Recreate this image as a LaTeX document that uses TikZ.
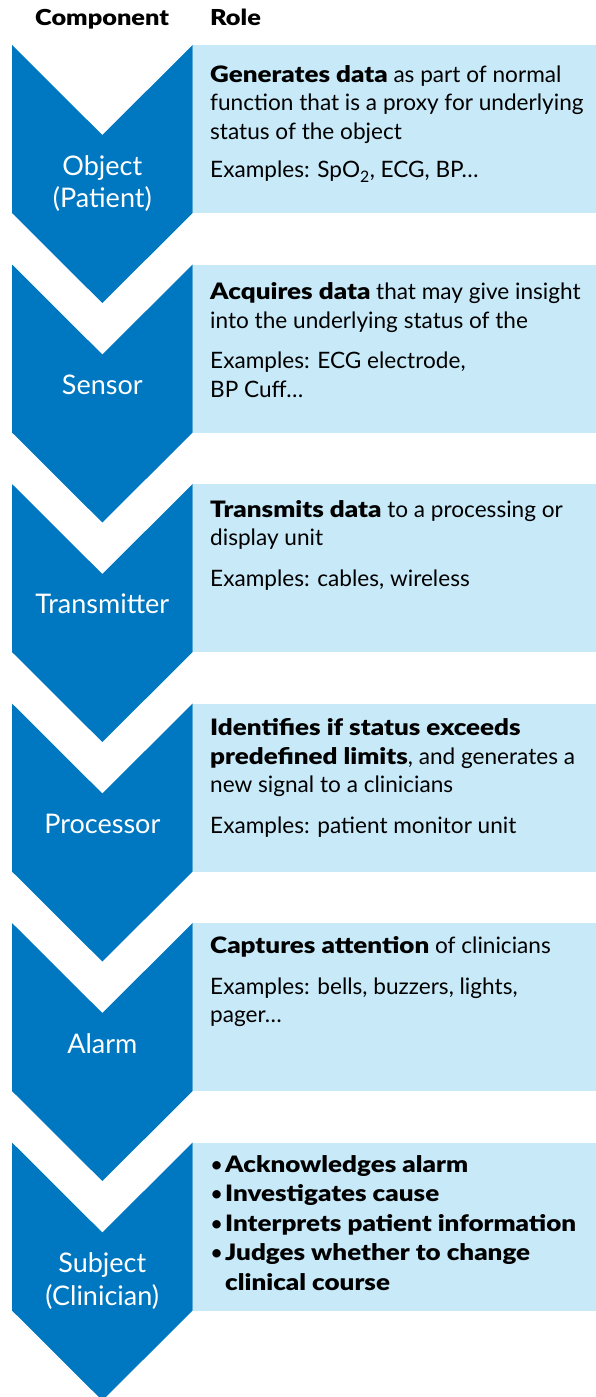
\documentclass[tikz,border=0pt]{standalone}
\usepackage{fontspec}
\setmainfont{Lato}[BoldFont={Lato Black}, BoldFeatures={FakeStretch=1.15}]
\definecolor{chevblue}{RGB}{0,120,193}
\definecolor{roleblue}{RGB}{199,233,248}
\newcommand{\rolebullet}{\makebox[15pt][l]{\mdseries •}}

\begin{document}
\begin{tikzpicture}[x=1pt, y=-1pt,
        head/.style={inner sep=0pt, anchor=base west, font=\fontsize{22}{26}\selectfont\bfseries},
        stage/.style={text=white, align=center, inner sep=0pt, anchor=north, font=\fontsize{27}{32.5}\selectfont},
        role/.style={align=left, inner sep=0pt, anchor=north west, font=\fontsize{22.6}{28.6}\selectfont}]
    \useasboundingbox (0,0) rectangle (596,1397);

    \node[head] (hcomp) at (35,26) {Component};
    \node[head] (hrole) at (210,26) {Role};

    % chevrons and role panels
    \foreach \t in {45,264.5,484,703.5,923,1142.5} {
        \fill[roleblue] (193,\t) rectangle (596,\t+168);
        \fill[chevblue] (12,\t) -- (102.3,\t+90) -- (192.7,\t) -- (192.7,\t+168)
            -- (102.3,\t+258) -- (12,\t+168) -- cycle;
    }

    \node[stage] (object) at (102.3,155) {Object\\(Patient)};
    \node[stage] (sensor) at (102.3,374.5) {Sensor};
    \node[stage] (transmitter) at (102.3,594) {Transmitter};
    \node[stage] (processor) at (102.3,813.5) {Processor};
    \node[stage] (alarm) at (102.3,1033) {Alarm};
    \node[stage] (subject) at (102.3,1252.5) {Subject\\(Clinician)};

    \node[role] (robject) at (210,65) {\textbf{Generates data} as part of normal\\function that is a proxy for underlying\\status of the object\\[10pt]Examples: SpO\textsubscript{2}, ECG, BP…};
    \node[role] (rsensor) at (210,282.5) {\textbf{Acquires data} that may give insight\\into the underlying status of the\\[12pt]Examples: ECG electrode,\\BP Cuff…};
    \node[role] (rtransmitter) at (210,500) {\textbf{Transmits data} to a processing or\\display unit\\[12pt]Examples: cables, wireless};
    \node[role] (rprocessor) at (210,718.5) {\textbf{Identifies if status exceeds}\\\textbf{predefined limits}, and generates a\\new signal to a clinicians\\[12pt]Examples: patient monitor unit};
    \node[role] (ralarm) at (210,936.5) {\textbf{Captures attention} of clinicians\\[12pt]Examples: bells, buzzers, lights,\\pager…};
    \node[role, font=\fontsize{22.6}{29.5}\selectfont\bfseries] (rsubject) at (210,1155) {\rolebullet Acknowledges alarm\\\rolebullet Investigates cause\\\rolebullet Interprets patient information\\\rolebullet Judges whether to change\\\hspace*{15pt}clinical course};
\end{tikzpicture}
\end{document}
